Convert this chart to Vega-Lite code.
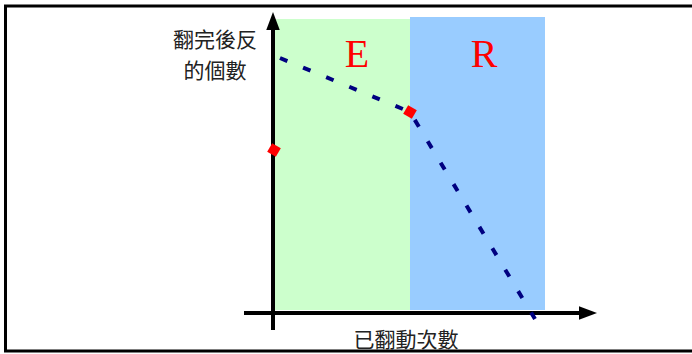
{
  "$schema": "https://vega.github.io/schema/vega-lite/v6.json",
  "width": 692,
  "height": 354,
  "padding": 0,
  "autosize": "none",
  "background": "white",
  "config": {"view": {"stroke": null}},
  "datasets": {
    "phases": [
      {"phase": "E", "x0": 2, "x1": 137, "y0": 3, "y1": 294},
      {"phase": "R", "x0": 137, "x1": 272, "y0": 3, "y1": 296}
    ],
    "border": [
      {"x": -267.5, "x2": -267.5, "y": -38, "y2": 308},
      {"x": -269, "x2": 430, "y": 307, "y2": 307},
      {"x": -269, "x2": 430, "y": -38, "y2": -38}
    ],
    "axes": [
      {"axis": "x", "x": -29, "x2": 310, "y": 0, "y2": 0},
      {"axis": "y", "x": 0, "x2": 0, "y": -17, "y2": 285}
    ],
    "curve": [
      {"flips": 7, "count": 255},
      {"flips": 137, "count": 201},
      {"flips": 262, "count": -6}
    ],
    "marks": [
      {"flips": 1, "count": 163},
      {"flips": 137, "count": 201}
    ],
    "labels": [
      {"text": "E", "x": 84, "y": 258},
      {"text": "R", "x": 211, "y": 258}
    ],
    "titles": [
      {"text": "翻完後反", "x": -58, "y": 272},
      {"text": "的個數", "x": -58, "y": 241},
      {"text": "已翻動次數", "x": 133, "y": -28}
    ]
  },
  "layer": [
    {
      "data": {"name": "phases"},
      "mark": {"type": "rect"},
      "encoding": {
        "x": {"field": "x0", "type": "quantitative", "scale": {"domain": [-273, 419], "zero": false, "nice": false}, "axis": null},
        "x2": {"field": "x1"},
        "y": {"field": "y0", "type": "quantitative", "scale": {"domain": [-41, 313], "zero": false, "nice": false}, "axis": null},
        "y2": {"field": "y1"},
        "color": {"field": "phase", "type": "nominal", "scale": {"domain": ["E", "R"], "range": ["#CCFFCC", "#99CCFF"]}, "legend": null}
      }
    },
    {
      "data": {"name": "border"},
      "mark": {"type": "rule", "color": "black", "strokeWidth": 3},
      "encoding": {
        "x": {"field": "x", "type": "quantitative"},
        "x2": {"field": "x2"},
        "y": {"field": "y", "type": "quantitative"},
        "y2": {"field": "y2"}
      }
    },
    {
      "data": {"name": "axes"},
      "mark": {"type": "rule", "color": "black", "strokeWidth": 4},
      "encoding": {
        "x": {"field": "x", "type": "quantitative"},
        "x2": {"field": "x2"},
        "y": {"field": "y", "type": "quantitative"},
        "y2": {"field": "y2"}
      }
    },
    {
      "data": {"values": [{"x": 315, "y": 0}]},
      "mark": {"type": "point", "shape": "M-1,-0.75L1,0L-1,0.75Z", "size": 324, "filled": true, "color": "black", "opacity": 1},
      "encoding": {
        "x": {"field": "x", "type": "quantitative"},
        "y": {"field": "y", "type": "quantitative"}
      }
    },
    {
      "data": {"values": [{"x": 0, "y": 292}]},
      "mark": {"type": "point", "shape": "M-0.75,1L0,-1L0.75,1Z", "size": 324, "filled": true, "color": "black", "opacity": 1},
      "encoding": {
        "x": {"field": "x", "type": "quantitative"},
        "y": {"field": "y", "type": "quantitative"}
      }
    },
    {
      "data": {"name": "curve"},
      "mark": {"type": "line", "color": "#000080", "strokeWidth": 4, "strokeDash": [8, 17]},
      "encoding": {
        "x": {"field": "flips", "type": "quantitative"},
        "y": {"field": "count", "type": "quantitative"}
      }
    },
    {
      "data": {"name": "marks"},
      "mark": {"type": "point", "shape": "square", "size": 100, "angle": 30, "filled": true, "color": "#FF0000", "opacity": 1},
      "encoding": {
        "x": {"field": "flips", "type": "quantitative"},
        "y": {"field": "count", "type": "quantitative"}
      }
    },
    {
      "data": {"name": "labels"},
      "mark": {"type": "text", "font": "Liberation Serif", "fontSize": 40, "color": "#FF0000", "baseline": "middle", "align": "center"},
      "encoding": {
        "x": {"field": "x", "type": "quantitative"},
        "y": {"field": "y", "type": "quantitative"},
        "text": {"field": "text"}
      }
    },
    {
      "data": {"name": "titles"},
      "mark": {"type": "text", "font": "Noto Sans CJK TC", "fontSize": 21, "color": "#222222", "baseline": "middle", "align": "center"},
      "encoding": {
        "x": {"field": "x", "type": "quantitative"},
        "y": {"field": "y", "type": "quantitative"},
        "text": {"field": "text"}
      }
    }
  ]
}
